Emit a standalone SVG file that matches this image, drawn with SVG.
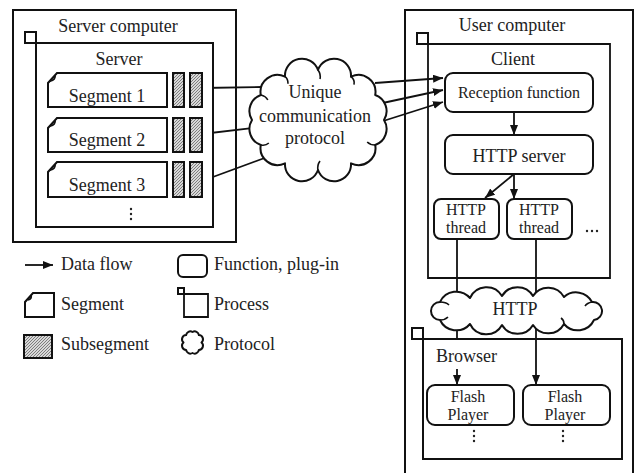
<svg xmlns="http://www.w3.org/2000/svg" width="636" height="473" viewBox="0 0 636 473">
<defs>
<style>
text{font-family:"Liberation Serif","Times New Roman",serif;fill:#222}
.t18{font-size:18px}
.t16{font-size:16px}
.mid{text-anchor:middle}
.box{fill:#fff;stroke:#111;stroke-width:2}
.rbox{fill:#fff;stroke:#111;stroke-width:2}
.ln{fill:none;stroke:#111;stroke-width:1.8}
.arr{fill:none;stroke:#111;stroke-width:1.8;marker-end:url(#ah)}
.hatch{fill:url(#hp);stroke:#111;stroke-width:2}
.cloud{fill:#fff;stroke:#111;stroke-width:2;stroke-linejoin:round}
.curl{fill:none;stroke:#111;stroke-width:1.6}
.dot{fill:#222}
</style>
<marker id="ah" viewBox="0 0 10 8" refX="10" refY="4" markerWidth="10" markerHeight="8" markerUnits="userSpaceOnUse" orient="auto">
<path d="M0,0 L10,4 L0,8 z" fill="#111"/>
</marker>
<pattern id="hp" patternUnits="userSpaceOnUse" width="3" height="3">
<rect width="3" height="3" fill="#d8d8d8"/>
<path d="M-1,1 L1,-1 M0,3 L3,0 M2,4 L4,2" stroke="#666" stroke-width="0.8"/>
</pattern>
</defs>
<rect width="636" height="473" fill="#fff"/>

<g id="connectors">
<path class="ln" d="M202,88 L262,87"/>
<path class="ln" d="M202,134 L262,127"/>
<path class="ln" d="M202,181 L270,156"/>
<path class="arr" d="M375,83 L443,78"/>
<path class="arr" d="M378,104 L443,90"/>
<path class="arr" d="M380,122 L443,102"/>
<path class="arr" d="M514,112 L514,135"/>
<path class="arr" d="M514,174 L514,199"/>
<path class="arr" d="M514,174 L485,198"/>
<path class="ln" d="M457,239 L457,339"/>
<path class="arr" d="M536,239 L536,385"/>
<path class="arr" d="M457,369 L457,385"/>
</g>

<g id="server-computer">
<rect class="box" x="13" y="10" width="223" height="232" style="fill:none"/>
<text class="t18 mid" x="118" y="32">Server computer</text>
</g>

<g id="server">
<rect class="box" x="36" y="43" width="177" height="184"/>
<rect class="box" x="25" y="32" width="11" height="11"/>
<text class="t18 mid" x="119" y="65">Server</text>
</g>

<g id="segment1">
<path class="box" d="M57,73 H167 V107 H48 V83 Z"/>
<path class="ln" d="M55,75 Q56,80 50,81" stroke-width="1.3"/>
<text class="t18 mid" x="107" y="102">Segment 1</text>
<rect class="hatch" x="173" y="73" width="11" height="34"/>
<rect class="hatch" x="190" y="73" width="12" height="34"/>
</g>
<g id="segment2">
<path class="box" d="M57,118 H167 V152 H48 V128 Z"/>
<path class="ln" d="M55,120 Q56,125 50,126" stroke-width="1.3"/>
<text class="t18 mid" x="107" y="146">Segment 2</text>
<rect class="hatch" x="173" y="118" width="11" height="34"/>
<rect class="hatch" x="190" y="118" width="12" height="34"/>
</g>
<g id="segment3">
<path class="box" d="M57,162 H167 V197 H48 V172 Z"/>
<path class="ln" d="M55,164 Q56,169 50,170" stroke-width="1.3"/>
<text class="t18 mid" x="107" y="191">Segment 3</text>
<rect class="hatch" x="173" y="162" width="11" height="35"/>
<rect class="hatch" x="190" y="162" width="12" height="35"/>
<circle class="dot" cx="131" cy="209" r="1.2"/>
<circle class="dot" cx="131" cy="214" r="1.2"/>
<circle class="dot" cx="131" cy="219" r="1.2"/>
</g>

<g id="protocol-cloud">
<path class="cloud" d="M285,76.7 A17,17 0 0 1 318,70 A17,17 0 0 1 351,76.7 A17,17 0 0 1 375.2,95 A17,17 0 0 1 384,120 A17,17 0 0 1 375.2,145 A17,17 0 0 1 351,163.3 A17,17 0 0 1 318,170 A17,17 0 0 1 285,163.3 A17,17 0 0 1 260.8,145 A17,17 0 0 1 252,120 A17,17 0 0 1 260.8,95 A17,17 0 0 1 285,76.7 Z"/>
<path class="curl" d="M318,70 q3,4 2,9 M351,76.7 q4,3 3,8 M375.2,145 q-5,0 -8,-3 M318,170 q-1,-5 2,-9 M260.8,145 q5,1 8,-2 M260.8,95 q5,1 7,5 M285,76.7 q3,2 3,7"/>
<text class="t18 mid" x="315" y="98">Unique</text>
<text class="t18 mid" x="315" y="122">communication</text>
<text class="t18 mid" x="315" y="144">protocol</text>
</g>

<g id="user-computer">
<rect class="box" x="405" y="10" width="228" height="475" style="fill:none"/>
<text class="t18 mid" x="512" y="31">User computer</text>
</g>

<g id="client">
<path class="ln" d="M428,278 V44 H610 V278 Z" stroke-width="2"/>
<rect class="box" x="417" y="33" width="11" height="11"/>
<text class="t18 mid" x="513" y="65">Client</text>
</g>

<g id="reception-function">
<rect class="rbox" x="445" y="73" width="148" height="39" rx="8"/>
<text class="t16 mid" x="519" y="98">Reception function</text>
</g>

<g id="http-server">
<rect class="rbox" x="445" y="135" width="148" height="39" rx="8"/>
<text class="t18 mid" x="519" y="162">HTTP server</text>
</g>

<g id="http-thread1">
<rect class="rbox" x="434" y="199" width="65" height="40" rx="7"/>
<text class="t16 mid" x="466" y="215">HTTP</text>
<text class="t16 mid" x="466" y="233">thread</text>
</g>
<g id="http-thread2">
<rect class="rbox" x="507" y="199" width="65" height="40" rx="7"/>
<text class="t16 mid" x="539" y="215">HTTP</text>
<text class="t16 mid" x="539" y="233">thread</text>
<circle class="dot" cx="587" cy="231" r="1.2"/>
<circle class="dot" cx="592" cy="231" r="1.2"/>
<circle class="dot" cx="597" cy="231" r="1.2"/>
</g>

<g id="http-cloud">
<path class="cloud" d="M440,302 A18,18 0 0 1 470,298 A18,18 0 0 1 502,296 A18,18 0 0 1 533,296 A18,18 0 0 1 564,297 A18,18 0 0 1 592,302 A9,9 0 0 1 594,320 A18,18 0 0 1 564,324 A18,18 0 0 1 533,325 A18,18 0 0 1 502,325 A18,18 0 0 1 470,324 A18,18 0 0 1 440,320 A9,9 0 0 1 440,302 Z"/>
<path class="curl" d="M440,302 q6,0 9,3 M592,302 q-5,1 -7,4 M440,320 q5,0 8,-3 M564,324 q0,-4 -3,-6"/>
<text class="t18 mid" x="515" y="315">HTTP</text>
</g>

<g id="browser">
<rect class="box" x="423" y="339" width="199" height="120" style="fill:none"/>
<rect class="box" x="412" y="328" width="11" height="11"/>
<text class="t18" x="436" y="362">Browser</text>
</g>

<g id="flash-player1">
<rect class="rbox" x="427" y="385" width="87" height="40" rx="8"/>
<text class="t16 mid" x="468" y="402">Flash</text>
<text class="t16 mid" x="468" y="420">Player</text>
<circle class="dot" cx="474" cy="431" r="1.2"/>
<circle class="dot" cx="474" cy="436" r="1.2"/>
<circle class="dot" cx="474" cy="441" r="1.2"/>
</g>
<g id="flash-player2">
<rect class="rbox" x="523" y="385" width="87" height="40" rx="8"/>
<text class="t16 mid" x="565" y="402">Flash</text>
<text class="t16 mid" x="565" y="420">Player</text>
<circle class="dot" cx="563" cy="431" r="1.2"/>
<circle class="dot" cx="563" cy="436" r="1.2"/>
<circle class="dot" cx="563" cy="441" r="1.2"/>
</g>

<g id="legend">
<path class="arr" d="M25,265 L53,265"/>
<text class="t18" x="61" y="270">Data flow</text>
<rect class="rbox" x="178" y="255" width="29" height="22" rx="5"/>
<text class="t18" x="214" y="270">Function, plug-in</text>
<path class="box" d="M33,293 H54 V317 H25 V302 Z"/>
<path class="ln" d="M31,295 Q32,299 28,300" stroke-width="1.2"/>
<text class="t18" x="61" y="310">Segment</text>
<path class="ln" d="M184,294 H208 V317 H184 Z" stroke-width="2"/>
<rect class="box" x="178" y="288" width="6" height="6" stroke-width="1.6"/>
<text class="t18" x="214" y="310">Process</text>
<rect class="hatch" x="24" y="335" width="28" height="23"/>
<text class="t18" x="61" y="350">Subsegment</text>
<path class="cloud" d="M186.1,335.1 A4.2,4.2 0 0 1 192.5,332 A4.2,4.2 0 0 1 198.9,335.1 A4.2,4.2 0 0 1 201.5,342.5 A4.2,4.2 0 0 1 198.9,349.9 A4.2,4.2 0 0 1 192.5,353 A4.2,4.2 0 0 1 186.1,349.9 A4.2,4.2 0 0 1 183.5,342.5 A4.2,4.2 0 0 1 186.1,335.1 Z" stroke-width="1.6"/>
<text class="t18" x="214" y="350">Protocol</text>
</g>
</svg>
